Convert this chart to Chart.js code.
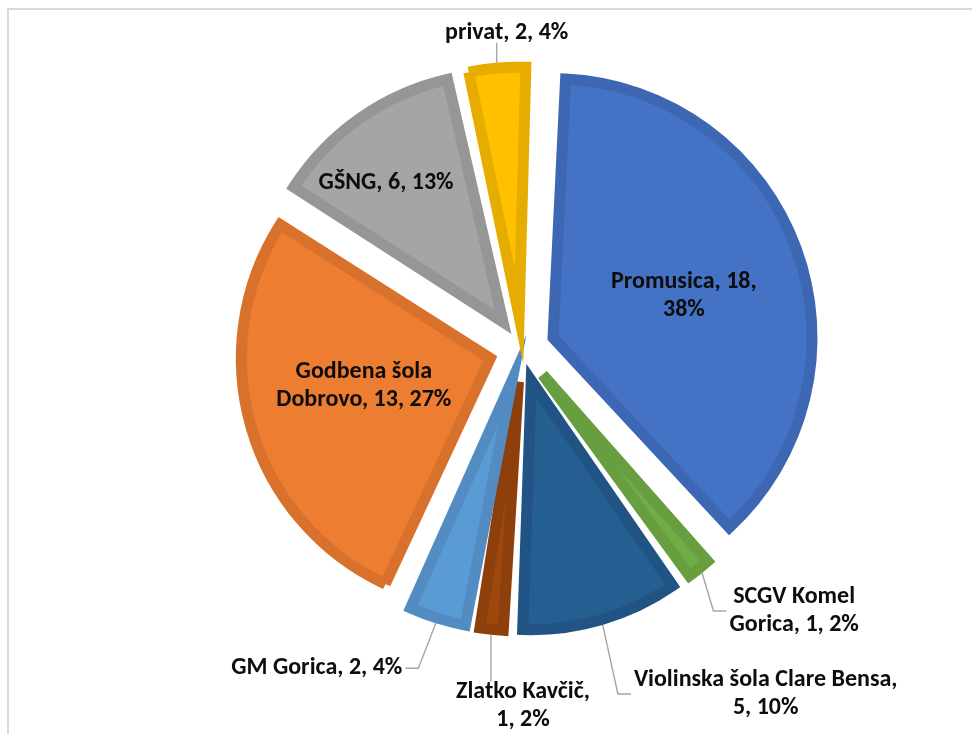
<!DOCTYPE html>
<html>
<head>
<meta charset="utf-8">
<script src="https://cdn.jsdelivr.net/npm/chart.js@4.4.1/dist/chart.umd.min.js"></script>
<style>
html,body{margin:0;padding:0;background:#fff;overflow:hidden}
#wrap{position:relative;width:972px;height:734px;overflow:hidden}
#frame{position:absolute;left:7px;top:8px;width:1200px;height:1200px;border-left:2px solid #d9d9d9;border-top:2px solid #d9d9d9;pointer-events:none}
canvas{position:absolute;left:0;top:0}
</style>
</head>
<body>
<div id="wrap"><div id="frame"></div><canvas id="c" width="972" height="734"></canvas></div>
<script>
// ---- data ----
const categories = ['Promusica', 'SCGV Komel Gorica', 'Violinska šola Clare Bensa', 'Zlatko Kavčič', 'GM Gorica', 'Godbena šola Dobrovo', 'GŠNG', 'privat'];
const values = [18, 1, 5, 1, 2, 13, 6, 2];
const fillColors = ['#4472C4', '#70AD47', '#255E91', '#9E480E', '#5B9BD5', '#ED7D31', '#A5A5A5', '#FFC000'];
const borderColors = ['#3D67B3', '#669E40', '#215484', '#8E400C', '#528CC2', '#D8712C', '#969696', '#E6AD00'];
const wordsOnFirstLine = [2, 2, 4, 2, 0, 2, 0, 0];

const total = values.reduce((a, b) => a + b, 0);
const percentText = values.map(v => Math.round(v / total * 100) + '%');
function labelLines(i) {
  const words = (categories[i] + ', ' + values[i] + ', ' + percentText[i]).split(' ');
  const n = wordsOnFirstLine[i];
  return n ? [words.slice(0, n).join(' '), words.slice(n).join(' ')] : [words.join(' ')];
}

// ---- styling / layout ----
const radiusExtra = [10, 0, 0, 0, 0, 0, 0, 0];
const labelPlacement = [
  {inside: 0.53, turn: 2.5},
  {dx: 92, dy: 38, side: 'left'},
  {dx: 163, dy: 69, side: 'left'},
  {dx: 32, dy: 71, side: 'top'},
  {dx: -119, dy: 45, side: 'right'},
  {inside: 0.52, turn: 4},
  {inside: 0.73, turn: -5},
  {dx: 10, dy: -30, side: 'bottom'}
];

const fontFamily = 'Carlito, Lato, sans-serif';
const lineH = 28;
const mctx = document.createElement('canvas').getContext('2d');
mctx.font = 'bold 100px ' + fontFamily;
const fontSize = Math.round(100 * 171 / mctx.measureText('GM Gorica, 2, 4%').width * 10) / 10;

function quirk(arc) {
  const off = (arc.options.offset || 0) / 4;
  return off * (1 - Math.sin(Math.min(Math.PI, arc.circumference || 0)));
}

const radiusFix = {
  id: 'radiusFix',
  afterDatasetsUpdate(chart) {
    const meta = chart.getDatasetMeta(0);
    meta.data.forEach((arc, i) => {
      arc.outerRadius = meta.controller.outerRadius - quirk(arc) + radiusExtra[i];
    });
  }
};

const labelPlugin = {
  id: 'sliceLabels',
  afterDatasetsDraw(chart) {
    const ctx = chart.ctx;
    const meta = chart.getDatasetMeta(0);
    ctx.save();
    ctx.font = 'bold ' + fontSize + 'px ' + fontFamily;
    ctx.textAlign = 'center';
    ctx.textBaseline = 'middle';
    meta.data.forEach((arc, i) => {
      const p = arc.getProps(['x', 'y', 'startAngle', 'endAngle'], true);
      const R = arc.outerRadius + quirk(arc);
      const mid = (p.startAngle + p.endAngle) / 2;
      const off = (arc.options.offset || 0) / 4;
      const cx = p.x + Math.cos(mid) * off;
      const cy = p.y + Math.sin(mid) * off;
      const lines = labelLines(i);
      const pl = labelPlacement[i];
      let lx, ly;
      if (pl.inside) {
        const a = mid + (pl.turn || 0) * Math.PI / 180;
        lx = cx + Math.cos(a) * R * pl.inside;
        ly = cy + Math.sin(a) * R * pl.inside;
      } else {
        const ar = R + arc.options.borderWidth / 2;
        const ax = cx + Math.cos(mid) * ar;
        const ay = cy + Math.sin(mid) * ar;
        lx = ax + pl.dx;
        ly = ay + pl.dy;
        const w = Math.max(...lines.map(t => ctx.measureText(t).width));
        const h = lines.length * lineH;
        const left = lx - w / 2, right = lx + w / 2, top = ly - h / 2, bottom = ly + h / 2;
        let pts;
        if (pl.side === 'left') pts = [[ax, ay], [left - 16, ly], [left - 3, ly]];
        else if (pl.side === 'right') pts = [[ax, ay], [right + 16, ly], [right + 3, ly]];
        else if (pl.side === 'top') pts = [[ax, ay], [ax, top + 4]];
        else pts = [[ax, ay], [ax, bottom - 4]];
        ctx.beginPath();
        ctx.moveTo(pts[0][0], pts[0][1]);
        for (let k = 1; k < pts.length; k++) ctx.lineTo(pts[k][0], pts[k][1]);
        ctx.strokeStyle = '#A6A6A6';
        ctx.lineWidth = 1.4;
        ctx.stroke();
      }
      ctx.fillStyle = '#0D0D0D';
      lines.forEach((t, k) => ctx.fillText(t, lx, ly + (k - (lines.length - 1) / 2) * lineH));
    });
    ctx.restore();
  }
};

new Chart(document.getElementById('c'), {
  type: 'pie',
  data: {
    labels: categories,
    datasets: [{
      data: values,
      backgroundColor: fillColors,
      borderColor: borderColors,
      borderWidth: 11,
      borderJoinStyle: 'miter',
      offset: 132
    }]
  },
  options: {
    responsive: false,
    animation: false,
    events: [],
    rotation: 2.45,
    radius: 249,
    layout: {padding: {left: 72, right: 0, top: 0, bottom: 36}},
    plugins: {legend: {display: false}, tooltip: {enabled: false}}
  },
  plugins: [radiusFix, labelPlugin]
});
</script>
</body>
</html>
